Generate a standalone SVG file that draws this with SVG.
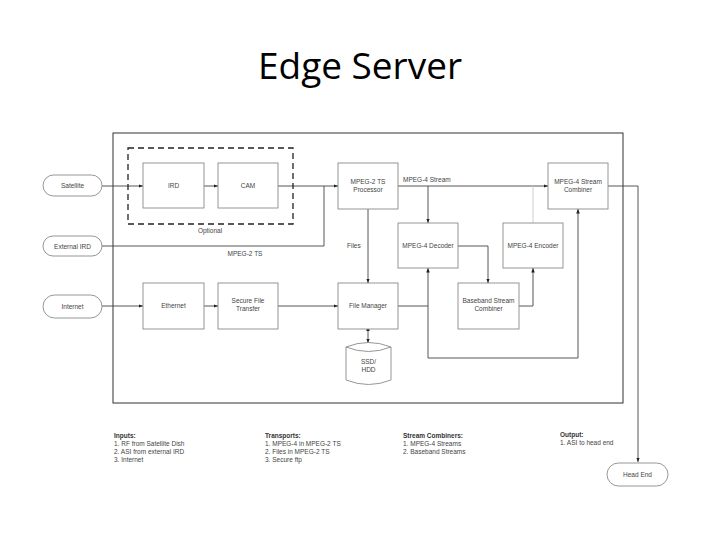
<svg xmlns="http://www.w3.org/2000/svg" width="720" height="540" viewBox="0 0 720 540">
<style>
.box{fill:#fff;stroke:#8a8a8a;stroke-width:0.9}
.term{fill:#fff;stroke:#8a8a8a;stroke-width:0.9}
.t{font-family:"Liberation Sans",Arial,sans-serif;font-size:6.5px;fill:#444;text-anchor:middle}
.n{font-family:"Liberation Sans",Arial,sans-serif;font-size:6.5px;fill:#444}
.b{font-weight:bold;fill:#333}
.c{fill:none;stroke:#444;stroke-width:0.9}
.lc{fill:none;stroke:#c8c8c8;stroke-width:0.9}
</style>
<defs>
<marker id="ah" viewBox="0 0 10 10" refX="10" refY="5" markerWidth="5" markerHeight="5" orient="auto">
<path d="M0,1 L10,5 L0,9 z" fill="#222"/>
</marker>
<marker id="as" viewBox="0 0 10 10" refX="0" refY="5" markerWidth="5" markerHeight="5" orient="auto-start-reverse">
<path d="M0,1 L10,5 L0,9 z" fill="#222"/>
</marker>
</defs>
<rect width="720" height="540" fill="#fff"/>
<text x="360" y="79" font-family="'Open Sans',Calibri,sans-serif" font-size="36" text-anchor="middle" textLength="204" lengthAdjust="spacingAndGlyphs" fill="#000">Edge Server</text>

<rect id="outer" x="113" y="133" width="510" height="270" fill="none" stroke="#444" stroke-width="1.1"/>

<g id="connectors">
<path class="c" d="M102,186 H143" marker-end="url(#ah)"/>
<path class="c" d="M204,186 H218" marker-end="url(#ah)"/>
<path class="c" d="M278,186 H338" marker-end="url(#ah)"/>
<path class="c" d="M102,246 H324 V186"/>
<path class="c" d="M398,186 H548" marker-end="url(#ah)"/>
<path class="c" d="M428,186 V223" marker-end="url(#ah)"/>
<path class="lc" d="M533,223 V186"/>
<path class="c" d="M368,209 V283" marker-end="url(#ah)"/>
<path class="c" d="M458,246 H488 V283" marker-end="url(#ah)"/>
<path class="c" d="M519,306 H533 V268" marker-end="url(#ah)"/>
<path class="c" d="M398,306 H428"/>
<path class="c" d="M428,358 V268" marker-end="url(#ah)"/>
<path class="c" d="M428,358 H578 V209" marker-end="url(#ah)"/>
<path class="c" d="M102,306 H143" marker-end="url(#ah)"/>
<path class="c" d="M204,306 H218" marker-end="url(#ah)"/>
<path class="c" d="M278,306 H338" marker-end="url(#ah)"/>
<path class="c" d="M368,331 V343" marker-start="url(#as)" marker-end="url(#ah)"/>
<path class="c" d="M608,186 H638 V462" marker-end="url(#ah)"/>
</g>

<g id="optional">
<rect x="128" y="148" width="165" height="76" fill="none" stroke="#222" stroke-width="1.3" stroke-dasharray="6,4"/>
<text class="t" x="210" y="233">Optional</text>
</g>
<text class="t" x="245" y="256">MPEG-2 TS</text>
<text class="n" x="403" y="182">MPEG-4 Stream</text>
<text class="n" x="347" y="248">Files</text>

<g id="satellite"><rect class="term" x="43" y="175" width="59" height="21" rx="10.5"/><text class="t" x="72.5" y="188">Satellite</text></g>
<g id="external-ird"><rect class="term" x="43" y="236" width="59" height="20" rx="10"/><text class="t" x="72.5" y="248.5">External IRD</text></g>
<g id="internet"><rect class="term" x="43" y="295" width="59" height="23" rx="11.5"/><text class="t" x="72.5" y="308.5">Internet</text></g>

<g id="ird"><rect class="box" x="143" y="163" width="61" height="45"/><text class="t" x="173.5" y="188">IRD</text></g>
<g id="cam"><rect class="box" x="218" y="163" width="60" height="45"/><text class="t" x="248" y="188">CAM</text></g>
<g id="processor"><rect class="box" x="338" y="163" width="60" height="46"/><text class="t" x="368" y="184">MPEG-2 TS</text><text class="t" x="368" y="192">Processor</text></g>
<g id="stream-combiner"><rect class="box" x="548" y="163" width="60" height="46"/><text class="t" x="578" y="184">MPEG-4 Stream</text><text class="t" x="578" y="192">Combiner</text></g>
<g id="decoder"><rect class="box" x="398" y="223" width="60" height="45"/><text class="t" x="428" y="248">MPEG-4 Decoder</text></g>
<g id="encoder"><rect class="box" x="503" y="223" width="60" height="45"/><text class="t" x="533" y="248">MPEG-4 Encoder</text></g>
<g id="ethernet"><rect class="box" x="143" y="283" width="61" height="46"/><text class="t" x="173.5" y="308">Ethernet</text></g>
<g id="sft"><rect class="box" x="218" y="283" width="60" height="46"/><text class="t" x="248" y="303">Secure File</text><text class="t" x="248" y="311">Transfer</text></g>
<g id="file-manager"><rect class="box" x="338" y="283" width="60" height="46"/><text class="t" x="368" y="308">File Manager</text></g>
<g id="baseband"><rect class="box" x="458" y="283" width="61" height="46"/><text class="t" x="488.5" y="303">Baseband Stream</text><text class="t" x="488.5" y="311">Combiner</text></g>
<g id="storage">
<path class="box" d="M346,347 Q368.5,338 391,347 V380 Q368.5,389 346,380 Z"/>
<path fill="none" stroke="#8a8a8a" stroke-width="0.9" d="M346,347 Q368.5,356 391,347"/>
<text class="t" x="368.5" y="364">SSD/</text><text class="t" x="368.5" y="372">HDD</text>
</g>
<g id="head-end"><rect class="term" x="607" y="463" width="61" height="23" rx="11.5"/><text class="t" x="637.5" y="476.5">Head End</text></g>

<g id="notes">
<text class="n b" x="114" y="438">Inputs:</text>
<text class="n" x="114" y="446">1. RF from Satellite Dish</text>
<text class="n" x="114" y="454">2. ASI from external IRD</text>
<text class="n" x="114" y="462">3. Internet</text>
<text class="n b" x="265" y="438">Transports:</text>
<text class="n" x="265" y="446">1. MPEG-4 in MPEG-2 TS</text>
<text class="n" x="265" y="454">2. Files in MPEG-2 TS</text>
<text class="n" x="265" y="462">3. Secure ftp</text>
<text class="n b" x="403" y="438">Stream Combiners:</text>
<text class="n" x="403" y="446">1. MPEG-4 Streams</text>
<text class="n" x="403" y="454">2. Baseband Streams</text>
<text class="n b" x="560" y="437">Output:</text>
<text class="n" x="560" y="445">1. ASI to head end</text>
</g>
</svg>
